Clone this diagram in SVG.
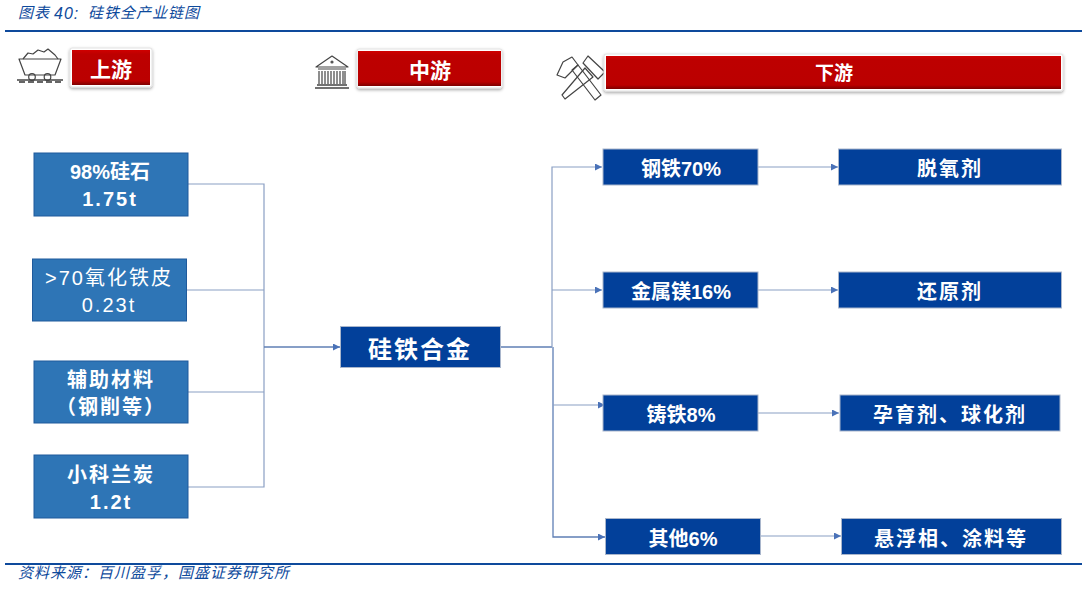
<svg xmlns="http://www.w3.org/2000/svg" width="1087" height="597" viewBox="0 0 1087 597">
<defs>
<style>
text{font-family:"Liberation Sans","Noto Sans CJK SC",sans-serif;text-anchor:middle;fill:#fff;font-weight:700}
.cap{font-size:15px;font-style:italic;font-weight:400;fill:#0e4a9c;text-anchor:start;font-family:"Noto Sans CJK SC",sans-serif;letter-spacing:1px}
.num{font-family:"Liberation Sans",sans-serif;font-size:16px}
.rule{stroke:#0e4a9c;stroke-width:2;fill:none}
.lt{fill:#2e75b6;stroke:#1f5a9c;stroke-width:1}
.dk{fill:#02409a;stroke:#a9b6cc;stroke-width:1}
.t20{font-size:20px}
.sp{letter-spacing:2px}
.reg{font-weight:400}
.t21{font-size:21px}
.hd{fill:#fff;stroke:#e2e2e2;stroke-width:1;filter:url(#sh)}
.hr{fill:url(#red)}
.conn{fill:none;stroke:#8a9fc4;stroke-width:1.2}
.spine{fill:none;stroke:#5f7fb5;stroke-width:1.3}
.ic{fill:none;stroke:#444;stroke-width:1.2;stroke-linejoin:round}
</style>
<linearGradient id="red" x1="0" y1="0" x2="0" y2="1">
<stop offset="0" stop-color="#d00000"/><stop offset=".12" stop-color="#bd0000"/><stop offset=".88" stop-color="#bb0000"/><stop offset="1" stop-color="#7d0000"/>
</linearGradient>
<filter id="sh" x="-10%" y="-20%" width="120%" height="150%"><feDropShadow dx="0" dy="1.5" stdDeviation="1.5" flood-color="#000" flood-opacity=".35"/></filter>
<marker id="arr" markerWidth="8" markerHeight="8" refX="7" refY="3.500" orient="auto" markerUnits="userSpaceOnUse"><path d="M0 0L7 3.500L0 7Z" fill="#4a72b8"/></marker>
</defs>

<text class="cap" x="18" y="18">图表</text>
<text class="cap num" x="54" y="19">40:</text>
<text class="cap" x="88" y="18">硅铁全产业链图</text>
<path class="rule" d="M5 31H1082"/>
<path class="rule" d="M5 564H1082"/>
<text class="cap" x="18" y="578">资料来源：百川盈孚，国盛证券研究所</text>

<g id="icon-cart">
<path class="ic" d="M19 59H61L55 75H25Z"/>
<path class="ic" d="M23 59L28 53L33 54L38 50L44 52L48 49L55 55L58 59"/>
<circle class="ic" cx="32" cy="77" r="3.300"/><circle class="ic" cx="47.500" cy="77" r="3.300"/>
<path d="M17 80H63" stroke="#444" stroke-width="1.500"/>
<path d="M19 81h6v2h-6zM28 81h6v2h-6zM37 81h6v2h-6zM46 81h6v2h-6zM55 81h6v2h-6z" fill="#666"/>
</g>
<g id="icon-bank">
<path class="ic" d="M316 67L332 56L348 67Z"/><circle cx="332" cy="62" r="1.600" fill="#555"/>
<path d="M318 69H346M319 71V84M322 71V84M325 71V84M328 71V84M331 71V84M334 71V84M337 71V84M340 71V84M343 71V84M345 71V84" stroke="#444" stroke-width="1.200" fill="none"/>
<path d="M317 85H347M315 88H349" stroke="#444" stroke-width="1.500"/>
</g>
<g id="icon-tools">
<path class="ic" d="M562 95L565 99L593 77L585 68Z"/>
<path class="ic" d="M583 63L588 56L605 72L598 79Z"/>
<path class="ic" d="M595 100L601 95L578 65L572 70Z"/>
<path class="ic" d="M557 75L563 62L572 57L578 65L565 78Z"/>
</g>

<g id="hd-up"><rect class="hd" x="70" y="48" width="82" height="39" rx="2"/><rect class="hr" x="72" y="50" width="78" height="35"/><text class="t21" x="111" y="77">上游</text></g>
<g id="hd-mid"><rect class="hd" x="357" y="49" width="145" height="39" rx="2"/><rect class="hr" x="358" y="51" width="143" height="35"/><text class="t21" x="430" y="78">中游</text></g>
<g id="hd-down"><rect class="hd" x="604" y="54" width="459" height="37" rx="2"/><rect class="hr" x="606" y="56" width="455" height="33"/><text font-size="19" x="834" y="80">下游</text></g>

<g id="connectors">
<path class="conn" d="M188 184H264V487H188"/>
<path class="conn" d="M186 290H264"/>
<path class="conn" d="M188 392H264"/>
<path class="spine" d="M264 347H340" marker-end="url(#arr)"/>
<path class="spine" d="M500 347H552"/>
<path class="conn" d="M552 347V167H602" marker-end="url(#arr)"/>
<path class="conn" d="M552 290H602" marker-end="url(#arr)"/>
<path class="spine" d="M553 347V537H605" marker-end="url(#arr)"/>
<path class="conn" d="M553 405H605" marker-end="url(#arr)"/>
<path class="conn" d="M758 167H838" marker-end="url(#arr)"/>
<path class="conn" d="M758 290H838" marker-end="url(#arr)"/>
<path class="conn" d="M758 413H839" marker-end="url(#arr)"/>
<path class="conn" d="M761 536H841" marker-end="url(#arr)"/>
</g>

<g id="n-silica"><rect class="lt" x="34" y="153" width="154" height="63"/><text class="t20" x="110" y="179">98%硅石</text><text class="t20 sp" x="110" y="206">1.75t</text></g>
<g id="n-scale"><rect class="lt" x="32.500" y="259" width="154" height="62"/><text class="t20 reg sp" x="109" y="285">&gt;70氧化铁皮</text><text class="t20 reg sp" x="109" y="312">0.23t</text></g>
<g id="n-aux"><rect class="lt" x="34" y="361" width="154" height="62"/><text class="t20 sp" x="111" y="387">辅助材料</text><text class="t20 sp" x="111" y="414">（钢削等）</text></g>
<g id="n-coal"><rect class="lt" x="34" y="455" width="154" height="63"/><text class="t20 sp" x="111" y="482">小科兰炭</text><text class="t20 sp" x="111" y="509">1.2t</text></g>

<g id="n-alloy"><rect class="dk" x="340.500" y="326.500" width="160" height="41"/><text class="sp" x="420" y="358" font-size="24">硅铁合金</text></g>

<g id="n-steel"><rect class="dk" x="603" y="149" width="155" height="36"/><text class="t20" x="681" y="176">钢铁70%</text></g>
<g id="n-mg"><rect class="dk" x="603" y="272" width="155" height="36"/><text class="t20" x="681" y="299">金属镁16%</text></g>
<g id="n-cast"><rect class="dk" x="603" y="395" width="155" height="36"/><text class="t20" x="681" y="422">铸铁8%</text></g>
<g id="n-other"><rect class="dk" x="605.500" y="518.500" width="155" height="36"/><text class="t20" x="683" y="546">其他6%</text></g>

<g id="n-deox"><rect class="dk" x="838.500" y="149" width="223" height="36"/><text class="t20 sp" x="950" y="176">脱氧剂</text></g>
<g id="n-red"><rect class="dk" x="838.500" y="272" width="223" height="36"/><text class="t20 sp" x="950" y="299">还原剂</text></g>
<g id="n-inoc"><rect class="dk" x="840" y="395" width="220" height="36"/><text class="t20 sp" x="950" y="422">孕育剂、球化剂</text></g>
<g id="n-susp"><rect class="dk" x="841.500" y="518.500" width="220" height="36"/><text class="t20 sp" x="951" y="546">悬浮相、涂料等</text></g>
</svg>
